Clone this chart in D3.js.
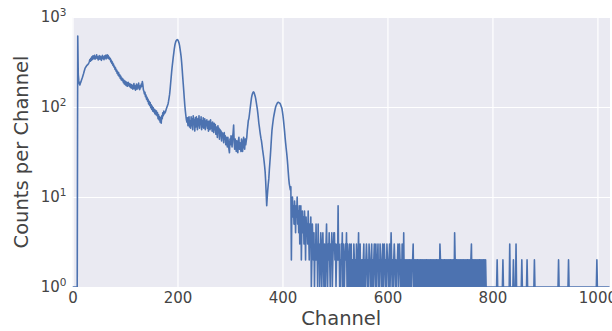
<!DOCTYPE html>
<html>
<head>
<meta charset="utf-8">
<script src="https://cdn.jsdelivr.net/npm/d3@7"></script>
<style>
    body { margin: 0; background: #fff; }
    text { font-family: "DejaVu Sans", sans-serif; }
</style>
</head>
<body>
<svg id="chart" width="612" height="331"></svg>
<script>
// counts per channel, 128 channels per block
const block0 = [
    1,1,1,1,1,1,1,1,1,1,615,230,195,182,176,184,
    190,198,206,214,224,234,246,258,270,276,282,288,292,296,300,308,
    318,336,322,348,330,362,338,370,344,356,376,340,362,352,380,346,
    362,334,358,372,340,366,348,330,360,374,344,358,336,368,350,376,
    342,366,380,350,372,344,358,338,346,318,330,304,316,290,300,278,
    284,262,272,250,258,236,248,226,240,218,228,208,220,200,210,196,
    204,186,198,180,194,176,190,172,186,170,188,174,182,168,180,164,
    178,162,174,158,170,182,160,172,154,168,180,158,174,164,184,160
];
const block1 = [
    156,172,164,180,170,192,178,156,150,140,146,130,136,122,128,116,
    122,108,116,104,112,98,106,94,102,90,98,88,94,84,92,82,
    90,80,86,74,82,72,78,68,76,66,80,74,86,80,90,84,
    86,88,92,96,100,104,108,116,126,138,158,185,215,250,285,320,
    360,400,445,485,515,538,550,558,560,552,535,512,480,440,400,360,
    310,260,215,180,150,124,104,90,80,72,68,76,62,70,78,60,
    70,58,78,62,74,56,80,64,72,54,76,60,78,66,56,74,
    62,80,58,72,64,78,56,70,60,76,58,68,74,56,70,62
];
const block2 = [
    72,58,68,54,70,62,56,72,58,66,54,68,60,52,66,56,
    64,50,60,54,46,62,52,58,44,56,48,54,42,52,46,50,
    40,52,44,48,38,46,42,36,46,40,34,31,44,38,48,42,
    36,46,52,63,40,34,44,38,32,42,36,31,42,46,34,40,
    36,32,44,38,32,40,46,36,34,44,38,42,46,55,62,71,
    74,82,92,102,114,126,135,141,146,147,144,138,132,124,114,104,
    96,86,76,66,60,54,49,45,42,38,34,31,28,25,22,19,
    15,11,8,10,12,14,16,20,24,29,36,45,55,62,69,76
];
const block3 = [
    82,88,94,100,104,107,110,112,113,112,111,110,108,104,100,96,
    88,80,71,62,54,46,40,35,31,27,23,19,16,14,13,12,
    13,2,9,10,6,8,5,9,7,4,8,6,10,5,7,4,
    8,3,6,8,2,5,7,4,6,3,7,5,2,6,4,5,
    3,7,4,2,5,3,6,1,2,5,3,2,4,1,3,2,
    5,2,3,1,5,2,3,1,2,4,2,1,3,4,2,1,
    3,2,1,3,5,2,1,3,2,4,2,1,3,2,4,1,
    2,3,4,4,2,3,1,2,3,2,8,2,3,1,2,1
];
const block4 = [
    3,2,4,1,3,2,1,2,3,2,4,1,3,2,1,2,
    3,1,2,3,1,2,2,1,3,2,1,2,1,3,2,1,
    2,4,1,2,3,1,2,1,2,1,2,3,1,2,1,2,
    3,2,1,2,1,3,2,2,1,2,3,1,2,1,2,3,
    2,1,3,1,2,2,3,1,2,1,3,2,2,1,2,3,
    1,2,3,2,1,2,1,3,2,2,1,2,3,1,2,4,
    2,1,2,1,2,3,2,1,2,1,2,2,3,1,2,3,
    2,1,2,1,3,2,1,4,1,2,1,2,2,1,2,1
];
const block5 = [
    2,1,2,2,1,2,1,2,2,3,1,2,1,2,1,2,
    1,2,2,1,2,1,2,2,1,2,1,2,2,1,2,1,
    2,1,2,2,1,2,1,2,1,2,2,1,2,1,2,1,
    2,2,1,2,1,2,2,1,2,1,2,1,3,2,1,2,
    2,1,2,1,2,2,1,2,1,2,1,2,2,1,2,1,
    2,2,1,2,1,2,2,1,4,2,1,2,2,1,2,1,
    2,1,2,2,1,2,1,2,1,2,2,1,2,1,2,1,
    2,2,1,2,1,2,1,2,3,1,2,1,2,1,2,1
];
const block6 = [
    2,2,1,2,1,2,1,2,2,1,2,1,2,1,2,2,
    1,2,1,2,1,1,1,1,1,1,1,1,1,1,1,1,
    1,1,1,1,1,1,1,1,1,2,1,1,1,1,1,1,
    1,1,1,1,2,1,1,1,1,1,1,1,1,1,1,1,
    1,3,1,1,1,1,1,1,2,1,1,1,1,3,1,1,
    1,1,1,1,1,1,1,1,2,1,1,1,1,1,1,1,
    1,1,2,1,1,1,1,1,1,1,1,1,1,1,1,1,
    2,1,1,1,1,1,1,1,1,1,1,1,1,1,1,1
];
const block7 = [
    1,1,1,1,1,1,1,1,1,1,1,1,1,1,1,1,
    1,1,1,1,1,1,1,1,1,1,1,1,1,1,2,1,
    1,1,1,1,1,1,1,1,1,1,1,1,1,1,1,1,
    1,2,1,1,1,1,1,1,1,1,1,1,1,1,1,1,
    1,1,1,1,1,1,1,1,1,1,1,1,1,1,1,1,
    1,1,1,1,1,1,1,1,1,1,1,1,1,1,1,1,
    1,1,1,1,1,1,1,2,1,1,1,1,1,1,1,1,
    1,1,1,1,1,1,1,1,1,1,1,1,1,1,1,1
];

const xTicks = [0, 200, 400, 600, 800, 1000];
const yTicks = [1, 10, 100, 1000];
const xLabel = 'Channel';
const yLabel = 'Counts per Channel';

const counts = [].concat(block0, block1, block2, block3, block4, block5, block6, block7);

const plot = {left: 72.5, right: 610, top: 17, bottom: 287};
const textColor = '#444';
const lineColor = '#4C72B0';

const svg = d3.select('#chart');

const x = d3.scaleLinear()
    .domain([0, 1024])
    .range([plot.left, plot.right]);

const y = d3.scaleLog()
    .domain([1, 1000])
    .range([plot.bottom, plot.top]);

svg.append('rect')
    .attr('x', plot.left)
    .attr('y', plot.top)
    .attr('width', plot.right - plot.left)
    .attr('height', plot.bottom - plot.top)
    .attr('fill', '#EAEAF2');

// white grid
svg.append('g')
    .attr('transform', `translate(0, ${plot.bottom})`)
    .call(d3.axisBottom(x).tickValues(xTicks).tickSize(-(plot.bottom - plot.top)).tickFormat(''))
    .call(g => g.select('.domain').remove())
    .call(g => g.selectAll('line').attr('stroke', '#fff').attr('stroke-width', 1.2));

svg.append('g')
    .attr('transform', `translate(${plot.left}, 0)`)
    .call(d3.axisLeft(y).tickValues(yTicks).tickSize(-(plot.right - plot.left)).tickFormat(''))
    .call(g => g.select('.domain').remove())
    .call(g => g.selectAll('line').attr('stroke', '#fff').attr('stroke-width', 1.2));

svg.append('clipPath')
    .attr('id', 'plot-clip')
    .append('rect')
    .attr('x', plot.left)
    .attr('y', plot.top)
    .attr('width', plot.right - plot.left)
    .attr('height', plot.bottom - plot.top);

const line = d3.line()
    .x((d, i) => x(i))
    .y(d => y(d));

svg.append('path')
    .datum(counts)
    .attr('clip-path', 'url(#plot-clip)')
    .attr('d', line)
    .attr('fill', 'none')
    .attr('stroke', lineColor)
    .attr('stroke-width', 1.6)
    .attr('stroke-linejoin', 'round');

// tick labels
svg.append('g')
    .attr('transform', `translate(0, ${plot.bottom})`)
    .call(d3.axisBottom(x).tickValues(xTicks).tickSize(0).tickPadding(5).tickFormat(d3.format('d')))
    .call(g => g.select('.domain').remove())
    .call(g => g.selectAll('text')
        .attr('font-family', '"DejaVu Sans", sans-serif')
        .attr('font-size', 15)
        .attr('fill', textColor));

const yAxis = svg.append('g')
    .attr('transform', `translate(${plot.left}, 0)`)
    .call(d3.axisLeft(y).tickValues(yTicks).tickSize(0).tickPadding(6).tickFormat(() => ''))
    .call(g => g.select('.domain').remove());

yAxis.selectAll('.tick text')
    .attr('font-family', '"DejaVu Sans", sans-serif')
    .attr('font-size', 15)
    .attr('fill', textColor)
    .each(function(d) {
        const t = d3.select(this);
        t.append('tspan').text('10');
        t.append('tspan')
            .attr('font-size', 10.5)
            .attr('dy', -6.5)
            .text(Math.round(Math.log10(d)));
    });

svg.append('text')
    .attr('x', (plot.left + plot.right) / 2)
    .attr('y', 325)
    .attr('text-anchor', 'middle')
    .attr('font-size', 19.5)
    .attr('fill', textColor)
    .text(xLabel);

svg.append('text')
    .attr('transform', `translate(28, ${(plot.top + plot.bottom) / 2}) rotate(-90)`)
    .attr('text-anchor', 'middle')
    .attr('font-size', 19.5)
    .attr('fill', textColor)
    .text(yLabel);
</script>
</body>
</html>
